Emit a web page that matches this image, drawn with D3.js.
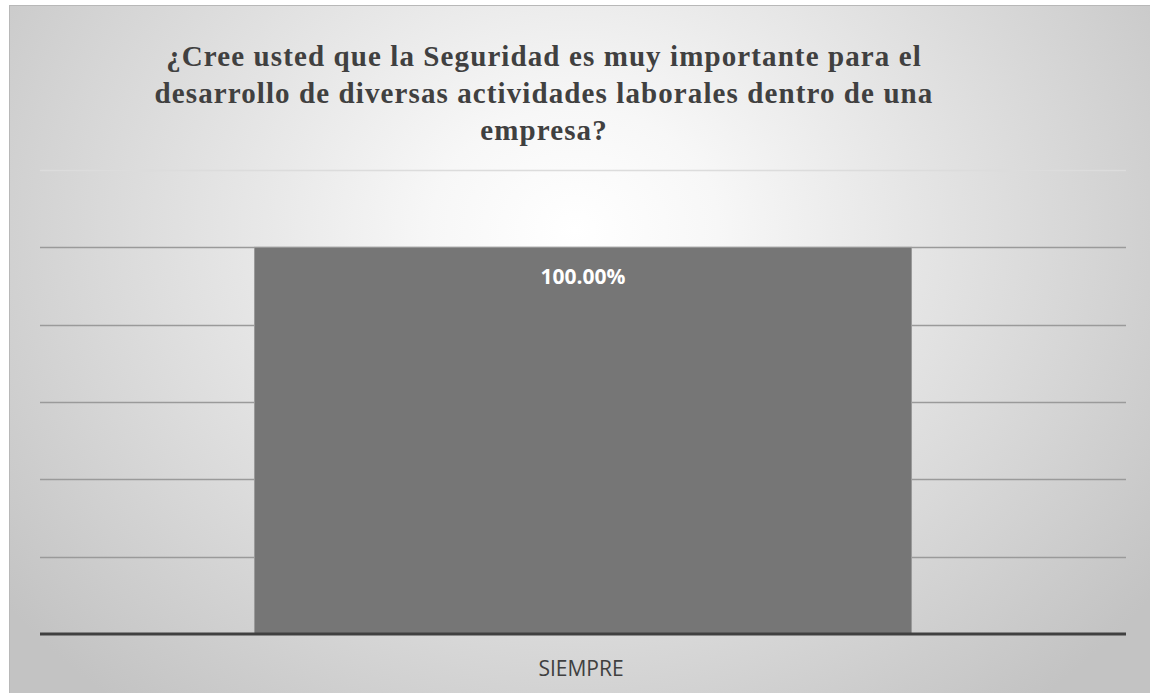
<!DOCTYPE html>
<html><head><meta charset="utf-8">
<script src="https://cdn.jsdelivr.net/npm/d3@7"></script>
<style>html,body{margin:0;padding:0;background:#fff;}svg{display:block;}</style>
</head><body>
<svg id="c" width="1150" height="693"></svg>
<script>
const categories = ["SIEMPRE"];
const values = [1.0];
const valueLabels = ["100.00%"];
const yTicks = [0, 0.2, 0.4, 0.6, 0.8, 1.0, 1.2];
const titleLines = ["¿Cree usted que la Seguridad es muy importante para el",
  "desarrollo de diversas actividades laborales dentro de una", "empresa?"];

const svg = d3.select("#c");
const defs = svg.append("defs");
const rg = defs.append("radialGradient").attr("id","bg")
  .attr("gradientUnits","userSpaceOnUse").attr("cx",575).attr("cy",230).attr("r",720)
  .attr("gradientTransform","translate(575,230) scale(1,0.85) translate(-575,-230)");
rg.append("stop").attr("offset","0").attr("stop-color","#ffffff");
rg.append("stop").attr("offset","0.2").attr("stop-color","#f7f7f7");
rg.append("stop").attr("offset","1").attr("stop-color","#c3c3c3");

svg.append("rect").attr("x",9.5).attr("y",5.5).attr("width",1145).attr("height",690)
  .attr("fill","url(#bg)").attr("stroke","#b8b8b8").attr("stroke-width",1);

const x = d3.scaleBand().domain(categories).range([40,1126]).paddingInner(0.395).paddingOuter(0.1975);
const y = d3.scaleLinear().domain([0,1.2]).range([634,170]);

svg.append("g").selectAll("line").data(yTicks.filter(d=>d>0)).join("line")
  .attr("x1",40).attr("x2",1126).attr("y1",d=>Math.round(y(d))+0.5).attr("y2",d=>Math.round(y(d))+0.5)
  .attr("stroke",d=>d>1.1?"#dcdcdc":"#9a9a9a").attr("stroke-width",1.5);

svg.append("g").selectAll("rect").data(values).join("rect")
  .attr("x",(d,i)=>x(categories[i])).attr("width",x.bandwidth())
  .attr("y",d=>y(d)).attr("height",d=>y(0)-y(d))
  .attr("fill","#767676").attr("stroke","#9a9a9a").attr("stroke-width",1);

svg.append("line").attr("x1",40).attr("x2",1126).attr("y1",634).attr("y2",634)
  .attr("stroke","#404040").attr("stroke-width",3);

svg.append("g").selectAll("text").data(values).join("text")
  .attr("x",(d,i)=>x(categories[i])+x.bandwidth()/2).attr("y",d=>y(d)+37)
  .attr("text-anchor","middle").attr("font-family","'Open Sans', sans-serif")
  .attr("font-weight","bold").attr("font-size",21).attr("fill","#ffffff")
  .text((d,i)=>valueLabels[i]);

svg.append("g").selectAll("text").data(categories).join("text")
  .attr("x",d=>x(d)+x.bandwidth()/2 - 2).attr("y",676)
  .attr("text-anchor","middle").attr("font-family","'Open Sans', sans-serif")
  .attr("font-size",21).attr("fill","#404040").text(d=>d);

svg.append("g").selectAll("text").data(titleLines).join("text")
  .attr("x",544).attr("y",(d,i)=>66+i*37).attr("text-anchor","middle")
  .attr("font-family","Liberation Serif, Times New Roman, serif").attr("font-weight","bold")
  .attr("font-size",29).attr("letter-spacing","1.1px").attr("fill","#404040").text(d=>d);
</script>
</body></html>
